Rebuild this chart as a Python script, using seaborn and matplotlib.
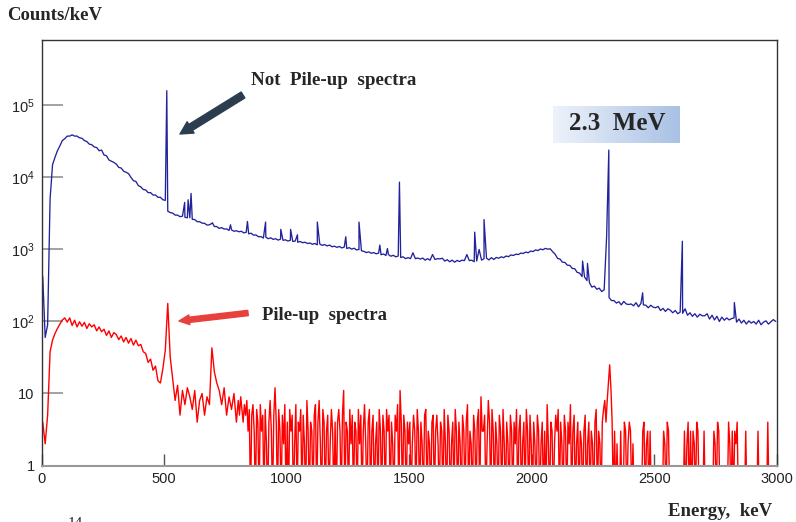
import numpy as np
import pandas as pd
import matplotlib
matplotlib.use("Agg")
import matplotlib.pyplot as plt
import seaborn as sns
from matplotlib.ticker import FixedLocator, LogLocator, MultipleLocator, NullFormatter
from matplotlib.colors import LinearSegmentedColormap

# ---------------- data (counts/keV) ----------------
energy_min, energy_max = 0, 3000

# "Not Pile-up" spectrum continuum, 10 keV bins
blue_bin_width = 10
blue_0_1000 = [
    420, 60, 90, 5000, 15000, 19000, 23500, 27500, 32500, 34500,
    37500, 37500, 39000, 37500, 37500, 35500, 35000, 32500, 31500, 29000,
    28500, 26500, 26000, 23500, 24000, 20500, 20000, 17500, 16800, 16200,
    15300, 13800, 13500, 12200, 11800, 11300, 10000, 9000, 8800, 7700,
    7400, 6800, 6700, 6150, 6150, 5700, 5700, 5300, 5300, 4900,
    4800, 3400, 3250, 3200, 3000, 3000, 2850, 2900, 2800, 2750,
    2750, 2620, 2600, 2430, 2430, 2320, 2310, 2180, 2200, 2300,
    2080, 2080, 1960, 2010, 1920, 1930, 1840, 1870, 1790, 1820,
    1760, 1790, 1700, 1730, 1650, 1680, 1580, 1590, 1500, 1510,
    1440, 1480, 1410, 1450, 1380, 1410, 1350, 1390, 1340, 1360,
]
blue_1000_2000 = [
    1310, 1340, 1290, 1310, 1260, 1290, 1240, 1260, 1210, 1230,
    1180, 1210, 1160, 1190, 1140, 1170, 1120, 1150, 1090, 1110,
    1070, 1100, 1050, 1080, 1030, 1060, 1010, 1040, 985, 1000,
    960, 940, 905, 925, 885, 905, 870, 890, 845, 865,
    825, 850, 805, 830, 790, 810, 775, 790, 745, 770,
    745, 900, 745, 760, 735, 760, 710, 745, 710, 850,
    725, 745, 740, 755, 690, 720, 675, 710, 665, 705,
    680, 710, 700, 850, 700, 710, 675, 690, 1000, 710,
    745, 760, 715, 770, 725, 775, 755, 790, 770, 810,
    795, 840, 825, 860, 850, 890, 880, 920, 900, 950,
]
blue_2000_3000 = [
    935, 985, 965, 1015, 990, 1035, 1010, 1020, 930, 860,
    750, 735, 665, 660, 605, 600, 545, 540, 480, 470,
    420, 415, 370, 345, 300, 310, 280, 290, 260, 275,
    1500, 215, 195, 195, 180, 188, 170, 190, 175, 172,
    175, 165, 182, 160, 178, 170, 168, 155, 168, 158,
    155, 162, 142, 152, 138, 150, 143, 132, 142, 128,
    135, 130, 150, 122, 132, 118, 128, 115, 126, 120,
    120, 128, 108, 122, 105, 118, 100, 115, 104, 112,
    105, 110, 112, 98, 108, 95, 104, 92, 102, 95,
    100, 92, 104, 90, 98, 102, 92, 99, 106, 100,
]
# narrow lines of the "Not Pile-up" spectrum (peak energy, peak height)
blue_peak_keV = [511, 584, 598, 610, 697, 771, 840, 914, 976, 1016, 1044,
                 1125, 1241, 1295, 1380, 1411, 1460, 1767, 1805, 2207, 2227,
                 2314, 2452, 2614, 2826]
blue_peak_counts = [160000, 4500, 4900, 6000, 2350, 2200, 2450, 2400, 1900,
                    1900, 1600, 2400, 1500, 2400, 1150, 1030, 8600, 1740, 2600,
                    690, 640, 24000, 250, 1300, 183]

# "Pile-up" spectrum, 10 keV bins from 0 to 800 keV
red_low_bin_width = 10
red_0_800 = [
    4, 2, 5, 38, 55, 68, 80, 92, 105, 112,
    98, 112, 88, 104, 84, 99, 86, 97, 80, 93,
    84, 90, 74, 84, 72, 78, 64, 74, 60, 70,
    66, 56, 63, 52, 60, 50, 58, 47, 55, 46,
    48, 38, 36, 27, 30, 21, 24, 15, 14, 22,
    40, 178, 32, 16, 8, 13, 5, 11, 7, 12,
    9, 6, 11, 4, 8, 10, 5, 9, 7, 43,
    20, 14, 11, 7, 12, 5, 9, 6, 10, 4,
]
# "Pile-up" spectrum, 5 keV bins from 800 to 3000 keV (one row = 100 keV)
red_high_bin_width = 5
red_800_3000 = [
    8, 5, 9, 6, 4, 7, 5, 8, 3, 6, 0, 5, 7, 3, 0, 6, 4, 0, 7, 3,
    5, 0, 6, 2, 0, 4, 8, 3, 0, 5, 12, 4, 0, 6, 3, 0, 5, 2, 7, 0,
    4, 0, 6, 3, 5, 0, 2, 7, 0, 4, 3, 6, 0, 5, 2, 0, 8, 3, 0, 4,
    3, 0, 5, 7, 0, 4, 8, 2, 0, 6, 4, 0, 3, 5, 0, 2, 6, 3, 0, 4,
    0, 4, 6, 3, 0, 5, 11, 0, 4, 3, 0, 6, 2, 5, 0, 4, 3, 0, 6, 2,
    5, 0, 3, 7, 2, 0, 4, 6, 0, 3, 5, 0, 2, 4, 0, 6, 3, 0, 5, 3,
    0, 6, 3, 5, 0, 4, 2, 0, 5, 3, 7, 0, 11, 4, 0, 5, 3, 0, 4, 2,
    4, 0, 2, 5, 3, 0, 6, 3, 0, 4, 2, 0, 5, 6, 0, 3, 2, 0, 4, 5,
    0, 3, 5, 2, 0, 4, 3, 0, 6, 2, 0, 5, 3, 0, 2, 4, 0, 6, 3, 0,
    4, 2, 0, 5, 3, 0, 4, 7, 0, 3, 2, 0, 5, 3, 0, 4, 6, 0, 9, 3,
    3, 5, 0, 2, 8, 4, 0, 6, 3, 0, 4, 2, 0, 5, 3, 0, 6, 2, 0, 4,
    2, 0, 5, 3, 0, 4, 2, 6, 0, 3, 5, 0, 2, 4, 0, 6, 3, 0, 5, 2,
    0, 4, 2, 0, 5, 3, 0, 2, 4, 0, 3, 0, 7, 2, 0, 4, 3, 0, 2, 5,
    3, 6, 0, 4, 2, 0, 5, 3, 0, 4, 2, 7, 0, 3, 5, 0, 2, 4, 0, 3,
    2, 0, 3, 5, 0, 2, 4, 0, 3, 2, 0, 4, 6, 0, 3, 2, 0, 4, 6, 8,
    4, 8, 14, 25, 12, 4, 0, 3, 0, 2, 0, 0, 3, 0, 0, 4, 3, 0, 2, 4,
    3, 0, 2, 0, 0, 0, 0, 0, 0, 0, 3, 4, 0, 2, 3, 0, 3, 0, 0, 0,
    0, 0, 0, 0, 0, 0, 0, 3, 2, 0, 4, 3, 0, 0, 0, 0, 0, 0, 0, 0,
    0, 0, 0, 0, 3, 0, 2, 4, 0, 3, 0, 3, 2, 0, 4, 3, 0, 0, 0, 0,
    3, 0, 0, 0, 0, 0, 0, 0, 3, 2, 0, 4, 3, 0, 0, 0, 0, 0, 0, 0,
    4, 2, 0, 3, 0, 3, 2, 4, 0, 0, 0, 0, 0, 0, 3, 0, 0, 0, 0, 0,
    0, 0, 0, 0, 3, 0, 0, 0, 0, 0, 0, 0, 4, 0, 0, 0, 0, 0, 0, 0,
]

y_tick_values = [1, 10, 100, 1e3, 1e4, 1e5]
y_tick_labels = ["1", "10", r"$\mathregular{10^{2}}$", r"$\mathregular{10^{3}}$",
                 r"$\mathregular{10^{4}}$", r"$\mathregular{10^{5}}$"]

# ---------------- build spectra tables ----------------
floor = 0.3  # empty bins are drawn down to the bottom of the log axis

blue_cont = np.array(blue_0_1000 + blue_1000_2000 + blue_2000_3000, dtype=float)
blue_centers = np.arange(len(blue_cont)) * blue_bin_width + blue_bin_width / 2
df_blue = pd.DataFrame({
    "Energy": np.concatenate([blue_centers, blue_peak_keV]),
    "Counts": np.concatenate([blue_cont, blue_peak_counts]),
}).sort_values("Energy", kind="stable")

red_low = np.array(red_0_800, dtype=float)
red_high = np.array(red_800_3000, dtype=float)
red_low_centers = np.arange(len(red_low)) * red_low_bin_width + red_low_bin_width / 2
red_high_start = len(red_low) * red_low_bin_width
red_high_centers = red_high_start + np.arange(len(red_high)) * red_high_bin_width + red_high_bin_width / 2
df_red = pd.DataFrame({
    "Energy": np.concatenate([red_low_centers, red_high_centers]),
    "Counts": np.maximum(np.concatenate([red_low, red_high]), floor),
})

# ---------------- figure ----------------
sns.set_theme(style="white")
plt.rcParams["font.family"] = ["Liberation Sans", "DejaVu Sans"]
plt.rcParams["mathtext.fontset"] = "custom"
plt.rcParams["mathtext.rm"] = "Liberation Sans"

W, H = 796, 522
fig = plt.figure(figsize=(W / 100, H / 100), dpi=100)
ax = fig.add_axes([41.5 / W, 1 - 465.5 / H, (777 - 41.5) / W, (465.5 - 40) / H])
ax.set_yscale("log")

sns.lineplot(data=df_red, x="Energy", y="Counts", estimator=None, sort=False,
             color="#ff0000", lw=1.0, ax=ax)
sns.lineplot(data=df_blue, x="Energy", y="Counts", estimator=None, sort=False,
             color="#22229c", lw=0.95, ax=ax)

ax.set_xlim(energy_min, energy_max)
ax.set_ylim(1, 8.1e5)
ax.set_xlabel("")
ax.set_ylabel("")

ax.xaxis.set_major_locator(MultipleLocator(500))
ax.xaxis.set_minor_locator(MultipleLocator(100))
ax.yaxis.set_major_locator(FixedLocator(y_tick_values))
ax.set_yticklabels(y_tick_labels)
ax.yaxis.set_minor_locator(LogLocator(base=10, subs=np.arange(2, 10), numticks=30))
ax.yaxis.set_minor_formatter(NullFormatter())

ax.tick_params(axis="x", which="major", direction="in", length=9, width=1,
               color="#555555", pad=5, labelsize=10.5, labelcolor="#222222")
ax.tick_params(axis="x", which="minor", direction="in", length=4.8, width=1,
               color="#777777")
ax.tick_params(axis="y", which="major", direction="in", length=15, width=1.3,
               color="#9a9a9a", pad=5, labelsize=10.5, labelcolor="#222222")
ax.tick_params(axis="y", which="minor", direction="in", length=8, width=1.3,
               color="#9a9a9a")
ax.tick_params(bottom=True, left=True, top=False, right=False)

for side in ["left", "top", "right"]:
    ax.spines[side].set_color("#333333")
    ax.spines[side].set_linewidth(1.0)
ax.spines["bottom"].set_color("#999999")
ax.spines["bottom"].set_linewidth(1.5)

serif = ["Liberation Serif", "DejaVu Serif"]

def fx(px):
    return px / W

def fy(py):
    return 1 - py / H

fig.text(fx(7), fy(20), "Counts/keV", family=serif, weight="bold", fontsize=13.5,
         va="baseline", ha="left")
fig.text(fx(772), fy(516), "Energy,  keV", family=serif, weight="bold", fontsize=13.5,
         va="baseline", ha="right")
fig.text(fx(251), fy(85), "Not  Pile-up  spectra", family=serif, weight="bold",
         fontsize=13.6, va="baseline", ha="left")
fig.text(fx(262), fy(320.5), "Pile-up  spectra", family=serif, weight="bold",
         fontsize=13.5, va="baseline", ha="left")
fig.text(fx(68), fy(517), "14", family=serif, fontsize=11, va="top", ha="left")

# gradient label box
box_ax = fig.add_axes([fx(553), fy(143), (680 - 553) / W, (143 - 106) / H])
grad = np.linspace(0, 1, 256).reshape(1, -1)
cmap = LinearSegmentedColormap.from_list("box", ["#eef3fb", "#a9c1e4"])
box_ax.imshow(grad, aspect="auto", cmap=cmap, extent=[0, 1, 0, 1])
box_ax.set_axis_off()
fig.text(fx(617), fy(129.5), "2.3  MeV", family=serif, weight="bold", fontsize=18,
         va="baseline", ha="center")

# arrows
ax.annotate("", xy=(180, H - 134), xytext=(243, H - 95), xycoords="figure pixels",
            textcoords="figure pixels",
            arrowprops=dict(arrowstyle="simple,head_length=0.9,head_width=0.95,tail_width=0.5",
                            color="#2b3d4f", mutation_scale=10, shrinkA=0, shrinkB=0))
ax.annotate("", xy=(179, H - 321), xytext=(248, H - 313), xycoords="figure pixels",
            textcoords="figure pixels",
            arrowprops=dict(arrowstyle="simple,head_length=0.75,head_width=0.7,tail_width=0.38",
                            color="#e8403c", mutation_scale=10, shrinkA=0, shrinkB=0))

fig.savefig("out.png", dpi=100)
